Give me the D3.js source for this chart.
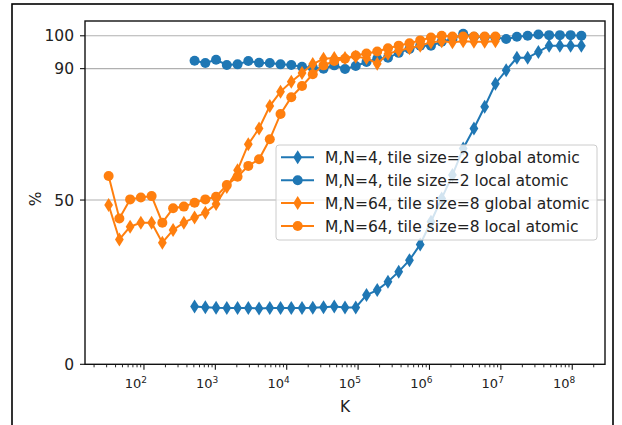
<!DOCTYPE html>
<html>
<head>
<meta charset="utf-8">
<script src="https://cdn.jsdelivr.net/npm/d3@7"></script>
<style>
  body { margin: 0; background: #fff; }
  svg { display: block; font-family: "DejaVu Sans", sans-serif; }
</style>
</head>
<body>
<div id="chart"></div>
<script>
// K values (x axis, log scale)
const kOrange = [32, 45.25, 64, 90.51, 128, 181.02, 256, 362.04, 512, 724.08, 1024, 1448.15,
    2048, 2896.31, 4096, 5792.62, 8192, 11585.24, 16384, 23170.48, 32768, 46340.95, 65536,
    92681.9, 131072, 185363.8, 262144, 370727.6, 524288, 741455.2, 1048576, 1482910.4,
    2097152, 2965820.8, 4194304, 5931641.6, 8388608];
const kBlue = [512, 724.08, 1024, 1448.15, 2048, 2896.31, 4096, 5792.62, 8192, 11585.24,
    16384, 23170.48, 32768, 46340.95, 65536, 92681.9, 131072, 185363.8, 262144, 370727.6,
    524288, 741455.2, 1048576, 1482910.4, 2097152, 2965820.8, 4194304, 5931641.6, 8388608,
    11863283.2, 16777216, 23726566.4, 33554432, 47453132.8, 67108864, 94906265.6, 134217728];

// percentages
const blueGlobal = [17.6, 17.4, 17.2, 17.1, 17.1, 17.1, 17.0, 17.1, 17.1, 17.1, 17.1, 17.2,
    17.4, 17.6, 17.3, 17.3, 21.1, 22.6, 25.1, 28.2, 31.7, 36.5, 43.4, 50.5, 57.6, 65.7, 71.8,
    78.4, 85.4, 89.5, 93.3, 93.3, 95.1, 97.0, 97.0, 97.0, 97.0];
const blueLocal = [92.4, 91.7, 92.7, 91.1, 91.3, 92.3, 91.8, 91.7, 91.3, 91.1, 90.6, 90.3,
    90.0, 91.0, 89.9, 90.8, 92.0, 93.0, 93.3, 94.8, 96.0, 97.0, 97.0, 98.2, 99.0, 100.6, 99.7,
    99.6, 99.5, 99.0, 99.7, 100.0, 100.4, 100.2, 100.2, 100.2, 100.0];
const orangeGlobal = [48.5, 38.0, 41.9, 43.1, 43.1, 37.0, 40.9, 43.1, 44.7, 46.1, 48.8, 54.0,
    59.1, 67.0, 71.8, 78.6, 83.0, 86.0, 88.7, 91.4, 93.0, 93.2, 93.2, 93.6, 93.2, 91.5, 94.5,
    95.5, 96.2, 97.0, 98.0, 98.3, 98.0, 98.3, 98.2, 98.2, 98.3];
const orangeLocal = [57.3, 44.4, 50.2, 50.8, 51.2, 43.1, 47.5, 48.0, 49.2, 50.2, 51.0, 54.6,
    57.1, 60.4, 62.4, 68.5, 76.2, 81.3, 84.7, 88.3, 91.0, 92.3, 93.0, 94.0, 94.6, 95.2, 96.2,
    97.0, 97.7, 98.6, 99.5, 100.0, 99.8, 99.8, 99.8, 99.8, 99.8];

const seriesNames = [
    "M,N=4, tile size=2 global atomic",
    "M,N=4, tile size=2 local atomic",
    "M,N=64, tile size=8 global atomic",
    "M,N=64, tile size=8 local atomic"
];
const yTicks = [0, 50, 90, 100];
const xTickExps = [2, 3, 4, 5, 6, 7, 8];

const blue = "#1f77b4", orange = "#ff7f0e";
const series = [
    { name: seriesNames[0], k: kBlue, v: blueGlobal, color: blue, marker: "d" },
    { name: seriesNames[1], k: kBlue, v: blueLocal, color: blue, marker: "o" },
    { name: seriesNames[2], k: kOrange, v: orangeGlobal, color: orange, marker: "d" },
    { name: seriesNames[3], k: kOrange, v: orangeLocal, color: orange, marker: "o" }
];

const W = 622, H = 425;
const plot = { left: 85, right: 605, top: 21, bottom: 364.3 };
const fs = 15.5;

const svg = d3.select("#chart").append("svg")
    .attr("width", W)
    .attr("height", H);

// figure frame (runs off the bottom of the picture)
svg.append("rect")
    .attr("x", 12).attr("y", 4)
    .attr("width", 601).attr("height", 450)
    .attr("fill", "none")
    .attr("stroke", "#000")
    .attr("stroke-width", 1.6);

// scales, log x with 5% margin like matplotlib
const allK = kOrange.concat(kBlue);
const lo = Math.log10(d3.min(allK)), hi = Math.log10(d3.max(allK));
const pad = 0.05 * (hi - lo);
const x = d3.scaleLog()
    .domain([Math.pow(10, lo - pad), Math.pow(10, hi + pad)])
    .range([plot.left, plot.right]);
const y = d3.scaleLinear()
    .domain([0, 104.5])
    .range([plot.bottom, plot.top]);

// grid lines
svg.append("g").selectAll("line")
    .data(yTicks.filter(d => d > 0))
    .enter().append("line")
    .attr("x1", plot.left).attr("x2", plot.right)
    .attr("y1", d => y(d)).attr("y2", d => y(d))
    .attr("stroke", "#b0b0b0")
    .attr("stroke-width", 1.1);

// series
const diamond = "M0,-7L4.4,0L0,7L-4.4,0Z";
const line = d3.line().x(d => x(d[0])).y(d => y(d[1]));

const drawMarker = (g, s, cx, cy) => {
    if (s.marker === "o") {
        g.append("circle").attr("cx", cx).attr("cy", cy).attr("r", 5).attr("fill", s.color);
    } else {
        g.append("path").attr("d", diamond)
            .attr("transform", `translate(${cx},${cy})`).attr("fill", s.color);
    }
};

series.forEach(s => {
    const pts = s.k.map((k, i) => [k, s.v[i]]);
    const g = svg.append("g");
    g.append("path")
        .datum(pts)
        .attr("d", line)
        .attr("fill", "none")
        .attr("stroke", s.color)
        .attr("stroke-width", 2);
    pts.forEach(p => drawMarker(g, s, x(p[0]), y(p[1])));
});

// axes frame
svg.append("rect")
    .attr("x", plot.left).attr("y", plot.top)
    .attr("width", plot.right - plot.left).attr("height", plot.bottom - plot.top)
    .attr("fill", "none")
    .attr("stroke", "#111")
    .attr("stroke-width", 1.4);

// y ticks
const yAxis = svg.append("g");
yTicks.forEach(t => {
    yAxis.append("line")
        .attr("x1", plot.left - 5).attr("x2", plot.left)
        .attr("y1", y(t)).attr("y2", y(t))
        .attr("stroke", "#111").attr("stroke-width", 1.1);
    yAxis.append("text")
        .attr("x", plot.left - 11)
        .attr("y", y(t) + 5.6)
        .attr("text-anchor", "end")
        .attr("font-size", fs)
        .attr("fill", "#222")
        .text(t);
});

// x ticks: major decades and minor 2..9
const xAxis = svg.append("g");
const [d0, d1] = x.domain();
for (let e = 1; e <= 8; e++) {
    for (let m = 2; m <= 9; m++) {
        const v = m * Math.pow(10, e);
        if (v < d0 || v > d1) continue;
        xAxis.append("line")
            .attr("x1", x(v)).attr("x2", x(v))
            .attr("y1", plot.bottom).attr("y2", plot.bottom + 3)
            .attr("stroke", "#111").attr("stroke-width", 0.9);
    }
}
xTickExps.forEach(e => {
    const px = x(Math.pow(10, e));
    xAxis.append("line")
        .attr("x1", px).attr("x2", px)
        .attr("y1", plot.bottom).attr("y2", plot.bottom + 5.5)
        .attr("stroke", "#111").attr("stroke-width", 1.1);
    const t = xAxis.append("text")
        .attr("x", px + 3)
        .attr("y", 388)
        .attr("text-anchor", "end")
        .attr("font-size", 13)
        .attr("fill", "#222");
    t.append("tspan").text("10");
    t.append("tspan").attr("font-size", 9).attr("dy", -5.5).text(e);
});

// axis labels
svg.append("text")
    .attr("x", (plot.left + plot.right) / 2)
    .attr("y", 411.5)
    .attr("text-anchor", "middle")
    .attr("font-size", fs)
    .attr("fill", "#222")
    .text("K");

svg.append("text")
    .attr("transform", "translate(40.5,199) rotate(-90)")
    .attr("text-anchor", "middle")
    .attr("font-size", fs)
    .attr("fill", "#222")
    .text("%");

// legend
const leg = svg.append("g");
leg.append("rect")
    .attr("x", 276).attr("y", 145)
    .attr("width", 321).attr("height", 95)
    .attr("rx", 3)
    .attr("fill", "#fff").attr("fill-opacity", 0.8)
    .attr("stroke", "#cccccc").attr("stroke-width", 1);
series.forEach((s, i) => {
    const ry = 157.3 + 22.9 * i;
    const g = leg.append("g");
    g.append("line")
        .attr("x1", 281).attr("x2", 314)
        .attr("y1", ry).attr("y2", ry)
        .attr("stroke", s.color).attr("stroke-width", 2);
    drawMarker(g, s, 297.7, ry);
    g.append("text")
        .attr("x", 325)
        .attr("y", ry + 5.6)
        .attr("font-size", fs)
        .attr("fill", "#222")
        .text(s.name);
});
</script>
</body>
</html>
